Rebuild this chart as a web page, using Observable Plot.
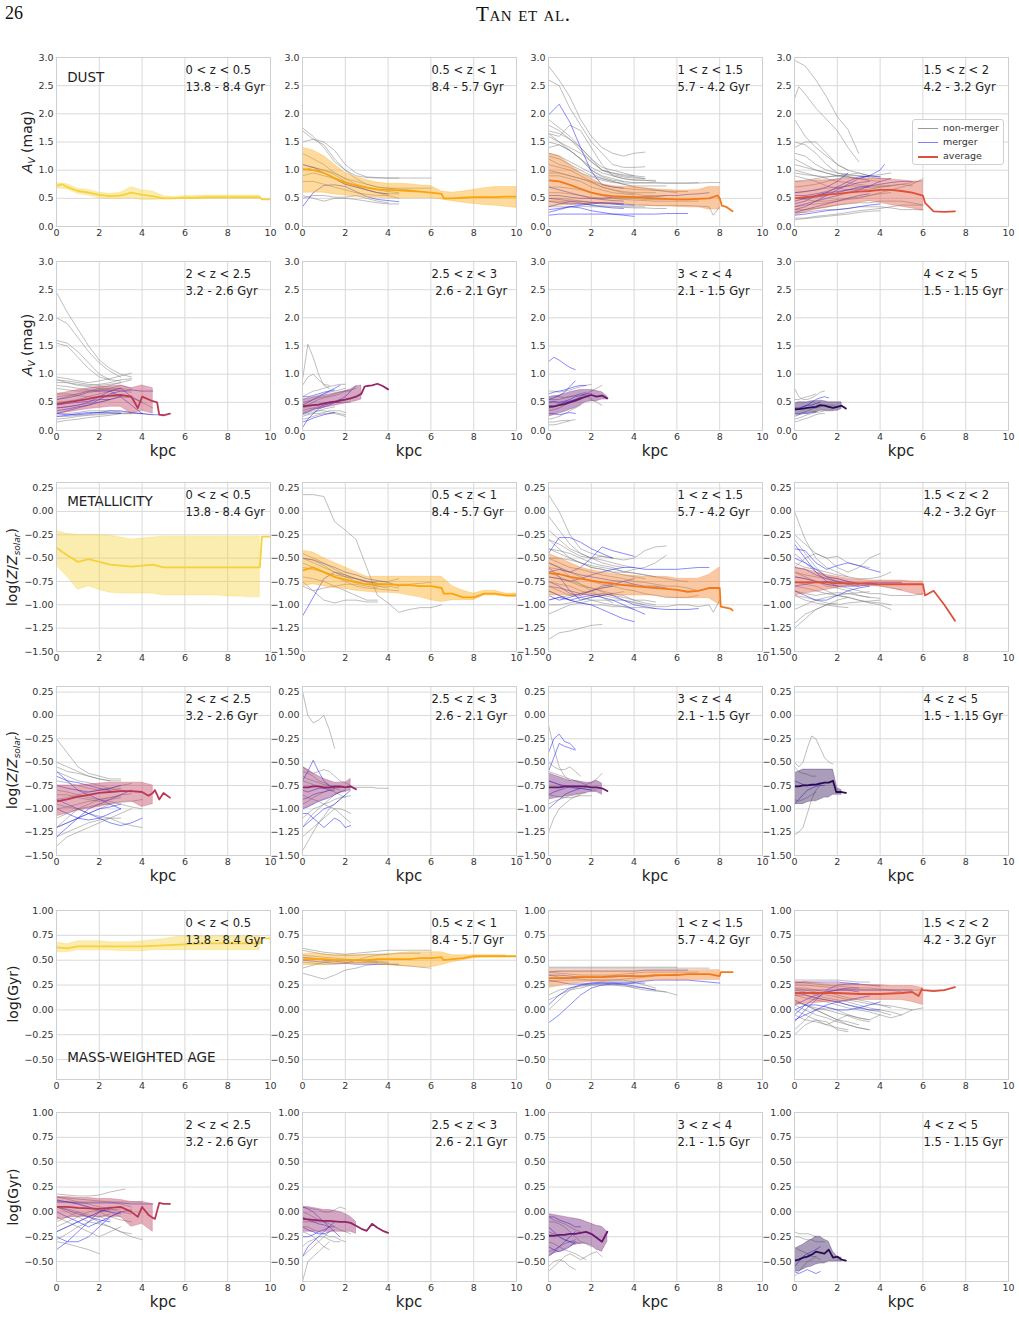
<!DOCTYPE html>
<html><head><meta charset="utf-8">
<script src="https://cdn.jsdelivr.net/npm/d3@7"></script>
<script src="https://cdn.jsdelivr.net/npm/@observablehq/plot@0.6"></script>
<style>
body{margin:0;background:#fff;}
#page{position:relative;width:1019px;height:1334px;overflow:hidden;font-family:"DejaVu Sans",sans-serif;color:#222;background:#fff;}
.panel{position:absolute;}
.abs{position:absolute;white-space:nowrap;}
.ylab{position:absolute;white-space:nowrap;font-size:14px;color:#222;transform:translate(-50%,-50%) rotate(-90deg);}
.kpc{position:absolute;font-size:15px;color:#222;transform:translate(-50%,-50%);}
.legend{position:absolute;background:rgba(255,255,255,0.9);border:1px solid #cfcfcf;border-radius:3px;font-size:9.5px;color:#333;}
.legend .row{position:absolute;left:0;height:14px;width:100%;}
.legend .sw{position:absolute;left:5px;width:20px;top:7px;}
.legend .tx{position:absolute;left:30px;top:0;line-height:14px;}
</style></head>
<body><div id="page"></div>
<script>
// ---------------- DATA ----------------
const zBins = ["0 < z < 0.5","0.5 < z < 1","1 < z < 1.5","1.5 < z < 2","2 < z < 2.5","2.5 < z < 3","3 < z < 4","4 < z < 5"];
const ageRanges = ["13.8 - 8.4 Gyr","8.4 - 5.7 Gyr","5.7 - 4.2 Gyr","4.2 - 3.2 Gyr","3.2 - 2.6 Gyr","\u00a02.6 - 2.1 Gyr","2.1 - 1.5 Gyr","1.5 - 1.15 Gyr"];
const sectionTitles = ["DUST","METALLICITY","MASS-WEIGHTED AGE"];
const legendLabels = ["non-merger","merger","average"];
const xTicks = [0,2,4,6,8,10];
const dustTicks = [0,0.5,1,1.5,2,2.5,3];
const metalTicks = [0.25,0,-0.25,-0.5,-0.75,-1,-1.25,-1.5];
const ageTicks = [1,0.75,0.5,0.25,0,-0.25,-0.5];
// radial sampling step (kpc) of each redshift bin's profiles; "x:y" tokens are explicit points
const stepKpc = [0.5,0.5,0.5,0.5,0.5,0.25,0.25,0.2];

const dustMean = [
"0.72 0.25:0.75 0.70 0.63 0.60 0.56 0.54 0.55 0.60 0.56 0.54 0.50 0.50 0.51 0.51 0.52 0.52 0.52 0.52 0.52 0.52 9.6:0.48 0.48",
"1.02 1.0 0.95 0.86 0.78 0.73 0.69 0.66 0.65 0.64 0.63 0.62 0.6 0.58 6.6:0.5 0.5 0.51 0.52 0.52 0.52 0.53 0.53",
"0.82 0.8 0.74 0.67 0.6 0.56 0.54 0.53 0.52 0.51 0.5 0.49 0.48 0.48 0.49 0.5 7.9:0.55 8.0:0.5 8.1:0.37 8.3:0.35 8.6:0.27",
"0.5 0.52 0.54 0.57 0.58 0.6 0.62 0.63 0.65 0.65 0.63 0.6 0.55 6.1:0.42 0.27 0.26 0.27",
"0.47 0.5 0.53 0.56 0.6 0.62 0.63 0.6 3.8:0.4 0.6 0.52 4.7:0.5 4.8:0.28 0.27 5.3:0.3",
"0.43 0.44 0.45 0.46 0.48 0.5 0.51 0.53 0.55 0.57 0.6 0.65 2.9:0.78 0.79 0.8 0.83 0.79 0.73",
"0.43 0.43 0.45 0.47 0.5 0.53 0.57 0.6 0.63 0.6 0.62 0.57",
"0.38 0.38 0.39 0.4 0.41 0.42 0.45 0.44 0.42 0.4 0.42 0.44 0.39"];
const dustLo = [
"0.68 0.66 0.58 0.55 0.50 0.49 0.49 0.50 0.47 0.47 0.48 0.49 0.49 0.49 0.49 0.49 0.49 0.49 0.49 0.49",
"0.6 0.6 0.6 0.57 0.55 0.53 0.52 0.51 0.5 0.5 0.5 0.5 0.5 0.48 0.45 0.42 0.4 0.38 0.37 0.35 0.33",
"0.35 0.37 0.38 0.4 0.4 0.4 0.4 0.4 0.38 0.37 0.36 0.36 0.35 0.34 0.34 0.3 0.3",
"0.2 0.25 0.3 0.33 0.37 0.4 0.42 0.45 0.42 0.38 0.35 0.32 0.28",
"0.3 0.32 0.35 0.38 0.4 0.42 0.42 0.3 0.35 0.3",
"0.3 0.33 0.36 0.38 0.4 0.42 0.44 0.46 0.48 0.5 0.52 0.55",
"0.25 0.27 0.3 0.33 0.37 0.4 0.45 0.5 0.52 0.52 0.55 0.55",
"0.28 0.28 0.3 0.3 0.32 0.32 0.35 0.35 0.35 0.35 0.35 0.38"];
const dustHi = [
"0.77 0.75 0.67 0.65 0.60 0.58 0.60 0.70 0.64 0.62 0.54 0.52 0.54 0.54 0.55 0.55 0.55 0.55 0.55 0.55",
"1.4 1.35 1.25 1.1 0.95 0.88 0.82 0.78 0.76 0.76 0.75 0.73 0.72 0.62 0.6 0.62 0.65 0.68 0.7 0.7 0.7",
"1.3 1.25 1.1 0.95 0.85 0.75 0.72 0.7 0.7 0.68 0.66 0.65 0.64 0.64 0.65 0.7 0.7",
"0.8 0.8 0.82 0.82 0.83 0.85 0.85 0.85 0.85 0.83 0.82 0.8 0.8",
"0.65 0.68 0.72 0.75 0.78 0.78 0.8 0.75 0.8 0.75",
"0.55 0.56 0.58 0.6 0.62 0.64 0.66 0.68 0.7 0.73 0.78 0.8",
"0.58 0.6 0.62 0.65 0.68 0.7 0.72 0.72 0.72 0.7 0.68 0.6",
"0.48 0.5 0.5 0.5 0.52 0.52 0.53 0.52 0.5 0.5 0.5 0.5"];
const dustNonMerger = [
[],
["1.75 1.6 1.4 1.15 1.0 0.9 0.87 0.86 0.86 0.86 0.86 0.86 0.86",
 "1.7 1.55 1.5 1.35 1.1 0.95 0.88 0.87 0.86 0.86",
 "1.5 1.55 1.45 1.2 1.0 0.85 0.75 0.7 0.68 0.68 0.68 0.68 0.68",
 "1.3 1.2 1.1 0.95 0.85 0.75 0.7 0.65 0.62 0.6",
 "1.1 1.05 1.0 0.92 0.8 0.72 0.65 0.6 0.58 0.58",
 "0.9 0.95 0.9 0.85 0.75 0.7 0.65 0.6 0.55 0.5",
 "0.8 0.8 0.75 0.7 0.65 0.6 0.57 0.55 0.55",
 "0.55 0.5 0.45 0.5 0.5 0.48 0.45 0.42 0.4 0.4",
 "0.5 0.55 0.55 0.52 0.52 0.55 0.5 0.45 0.42",
 "1.0 1.05 1.0 0.95 0.85 0.8 0.75 0.7 0.68 0.66 0.65 0.62"],
["2.85 2.6 2.3 1.9 1.6 1.4 1.3 1.25 1.3 1.32",
 "2.6 2.5 2.1 1.8 1.5 1.3 1.1 1.05 1.05 1.06",
 "1.7 1.65 1.55 1.4 1.2 1.0 0.95 0.92 0.9 0.88",
 "1.65 1.6 1.8 1.7 1.4 1.1 0.9 0.85 0.82 0.82 0.82",
 "1.5 1.45 1.35 1.2 1.0 0.88 0.82 0.8 0.78 0.78 0.78 0.77 0.77 0.77 0.77 0.78 0.78",
 "1.3 1.25 1.15 1.05 0.95 0.85 0.8 0.75 0.72 0.72 0.72 0.72",
 "1.1 1.05 1.0 0.9 0.8 0.7 0.65 0.6 0.58 0.55 0.55 0.55",
 "0.9 0.9 0.85 0.8 0.7 0.65 0.6 0.58 0.56",
 "0.7 0.7 0.68 0.65 0.6 0.55 0.5 0.48 0.47 0.46 0.45 0.45 0.45 0.45 0.45",
 "0.5 0.5 0.48 0.45 0.42 0.4 0.4 0.4 0.38 0.38 0.37 0.37 0.37 0.37 0.36 0.35 7.7:0.2 0.35",
 "1.9 1.75 1.6 1.4 1.2 1.05 1.0 0.95 0.9",
 "1.4 1.45 1.35 1.2 1.0 0.9 0.85 0.8",
 "0.35 0.35 0.35 0.36 0.35 0.35 0.35 0.34 0.33 0.33 0.32 0.32",
 "1.2 1.1 1.05 0.95 0.88 0.82 0.78 0.77 0.77 0.77 0.77 0.77 0.77 0.77 0.78",
 "1.6 1.5 1.4 1.3 1.15 1.0 0.92 0.88 0.86 0.85",
 "0.95 0.95 0.9 0.85 0.78 0.7 0.65 0.62 0.6 0.6 0.6",
 "1.8 1.7 1.55 1.35 1.15 1.0 0.95 0.9 0.88 0.85",
 "1.65 1.5 1.35 1.2 1.05 0.95 0.9 0.85 0.83 0.82 0.8",
 "1.25 1.2 1.1 1.0 0.9 0.85 0.8 0.75 0.7 0.68 0.65 0.62 0.6",
 "1.0 0.95 0.9 0.85 0.8 0.75 0.7 0.68 0.66 0.65 0.64 0.63 0.62 0.62",
 "0.6 0.6 0.58 0.55 0.52 0.5 0.5 0.5 0.5 0.48 0.48 0.48",
 "0.45 0.45 0.42 0.4 0.38 0.37 0.36 0.35 0.35 0.35"],
["2.95 2.85 2.6 2.3 1.95 1.72 1.3",
 "2.27 0.2:2.48 2.35 2.1 1.9 1.7 1.4 1.15",
 "1.9 1.6 1.4 1.25 1.1 1.0",
 "1.5 1.45 1.3 1.1 0.95 0.9 0.9 0.88 0.85 0.85",
 "1.1 1.05 1.0 0.95 0.9 0.88 0.85 0.82 0.8",
 "1.0 0.95 0.9 0.85 0.8 0.78 0.75 0.72 0.72 0.73 0.75 0.78 0.82",
 "0.9 0.85 0.8 0.72 0.68 0.65 0.65 0.66 0.7 0.72",
 "0.15 0.15 0.18 0.2 0.22 0.25 0.28 0.3 0.32 0.35 0.38 0.38 0.38",
 "0.12 0.14 0.16 0.18 0.2 0.22 0.25 0.27 0.28",
 "0.3 0.3 0.32 0.35 0.38 0.4 0.42 0.42 0.45 0.45 0.45 0.42 0.38",
 "0.6 0.62 0.65 0.68 0.7 0.72 0.72 0.7 0.7 0.72 0.75 0.72",
 "0.25 0.25 0.28 0.3 0.3 0.32 0.35 0.35 0.35 0.33 0.3 0.3 0.3",
 "1.3 1.25 1.1 1.0 0.95 0.93",
 "1.4 1.5 1.5 1.3 1.1 1.0 0.95 0.9",
 "0.95 0.92 0.9 0.88 0.9 0.92 0.9 0.88",
 "0.8 0.82 0.85 0.88 0.9 0.92 0.95 0.9 0.88",
 "0.7 0.72 0.75 0.8 0.85 0.88 0.85 0.82",
 "0.5 0.48 0.45 0.45 0.48 0.5 0.52 0.55 0.6 0.65 0.7 0.75 0.85",
 "0.35 0.38 0.4 0.42 0.45 0.48 0.5 0.55 0.58 0.6",
 "1.2 1.1 1.0 0.95 0.9 0.88 0.85 0.9 0.92 0.95"],
["2.45 2.1 1.8 1.5 1.25 1.1 1.0 0.95",
 "2.0 1.9 1.65 1.4 1.2 1.05 0.95",
 "1.6 1.55 1.4 1.2 1.0 0.9 0.88",
 "1.55 1.5 1.3 1.1 0.95 0.9",
 "0.95 0.92 0.88 0.85 0.88 0.92 0.97 1.02",
 "0.85 0.85 0.82 0.8 0.82 0.85 0.9 0.92",
 "0.75 0.72 0.7 0.7 0.72 0.75 0.8 0.75",
 "0.2 0.22 0.25 0.27 0.28 0.3 0.3 0.3 0.3",
 "0.15 0.18 0.2 0.23 0.25 0.27 0.3 0.3",
 "0.3 0.3 0.32 0.35 0.35 0.35 0.33 0.32 0.3 0.28",
 "0.55 0.6 0.65 0.7 0.72 0.75 0.75 0.72",
 "0.4 0.42 0.45 0.48 0.5 0.55 0.6 0.58 0.5 0.4",
 "0.9 0.88 0.85 0.82 0.8 0.82 0.85",
 "0.65 0.65 0.62 0.6 0.58 0.6 0.62",
 "0.6 0.62 0.65 0.7 0.75 0.8 0.85 0.9",
 "0.5 0.52 0.55 0.6 0.65 0.7 0.72",
 "0.9 0.85 0.8 0.78 0.75 0.72 0.7 0.68",
 "0.25 0.25 0.27 0.28 0.3 0.3 0.32",
 "0.8 0.78 0.75 0.72 0.7 0.72 0.75"],
["0.9 1.53 1.3 1.0 0.8 0.75",
 "0.8 0.95 1.0 0.9 0.82 0.8",
 "0.6 0.65 0.7 0.72 0.75 0.78 0.8 0.82 0.82",
 "0.3 0.32 0.35 0.35 0.35 0.33 0.3 0.28 0.25",
 "0.2 0.22 0.25 0.28 0.3 0.3 0.32 0.3 0.28",
 "0.5 0.52 0.55 0.58 0.6 0.62 0.65 0.68 0.7 0.7",
 "0.35 0.38 0.4 0.42 0.45 0.48 0.5 0.5 0.5 0.5",
 "0.45 0.45 0.5 0.55 0.58 0.6 0.62 0.65 0.7 0.72 0.75",
 "0.25 0.28 0.3 0.3 0.32 0.35 0.35 0.35 0.32",
 "0.4 0.42 0.45 0.45 0.48 0.5 0.52 0.55 0.55 0.58",
 "0.55 0.58 0.6 0.62 0.65 0.68 0.7 0.72 0.75",
 "0.28 0.3 0.32 0.35 0.38 0.4 0.42"],
["0.7 0.7 0.68 0.7 0.72 0.75 0.78 0.8 0.82",
 "0.15 0.15 0.17 0.18 0.18 0.19",
 "0.1 0.1 0.12 0.15 0.17",
 "0.2 0.22 0.25 0.3 0.35 0.4 0.45",
 "0.55 0.55 0.55 0.58 0.6 0.62 0.65 0.62 0.55 0.5 0.45",
 "0.35 0.37 0.4 0.45 0.5 0.55 0.6 0.65 0.7 0.75 0.8",
 "0.5 0.5 0.48 0.5 0.52 0.55 0.55",
 "0.4 0.42 0.45 0.48 0.5 0.52 0.55 0.6",
 "0.6 0.62 0.6 0.58 0.6 0.62 0.65 0.68"],
["0.75 0.6 0.55 0.55 0.58 0.62 0.68 0.7",
 "0.55 0.55 0.58 0.6 0.62 0.65",
 "0.2 0.22 0.25 0.28 0.3 0.32 0.33 0.35 0.35 0.35",
 "0.15 0.17 0.2 0.22 0.25 0.28 0.3 0.3",
 "0.3 0.3 0.32 0.35 0.38 0.4 0.42 0.45 0.45 0.45 0.42"]];
const dustMerger = [
[],
["0.35 0.6 0.73 0.74 0.71 0.62 0.53 0.48 0.46 0.44",
 "1.1 1.05 0.95 0.85 0.75 0.7 0.65 0.6 0.58"],
["1.98 2.17 1.85 1.4 0.98 0.74 0.7 0.68",
 "0.25 0.3 0.35 0.33 0.28 0.25 0.22 0.2 0.18",
 "0.2 0.22 0.22 0.22 0.22 0.22 0.22 0.22 0.22 0.22 0.22 0.23 0.23 0.23",
 "0.55 0.55 0.52 0.5 0.5 0.5 0.52 0.52 0.52 0.53 0.53 0.55 0.55 0.57 0.58 0.6",
 "0.45 0.42 0.4 0.4 0.42 0.42 0.4 0.38 0.38",
 "0.35 0.4 0.45 0.45 0.43 0.42 0.41 0.4",
 "0.5 0.48 0.45 0.42 0.38 0.35 0.33 0.32",
 "0.7 0.65 0.6 0.55 0.5 0.48 0.46 0.45",
 "0.3 0.32 0.35 0.38 0.4 0.42 0.42 0.4"],
["0.4 0.45 0.55 0.6 0.7 0.8 0.88 0.9 1.0 4.2:1.1",
 "0.3 0.35 0.45 0.55 0.65 0.75 0.85 0.9 0.88",
 "0.5 0.5 0.52 0.55 0.6 0.65 0.7 0.72 0.75 0.78 0.8 0.8",
 "0.2 0.22 0.25 0.28 0.3 0.32 0.35 0.38 0.4",
 "0.6 0.62 0.65 0.7 0.8 0.95",
 "0.45 0.5 0.55 0.6 0.62 0.65 0.68 0.7",
 "0.35 0.4 0.45 0.5 0.55 0.6 0.65 0.72 0.8 0.85",
 "0.55 0.55 0.58 0.62 0.68 0.72 0.78 0.8",
 "0.25 0.3 0.35 0.4 0.45 0.5 0.55 0.58"],
["0.3 0.35 0.4 0.45 0.55 0.65 0.7 0.72 0.7 0.7",
 "0.55 0.58 0.62 0.68 0.7 0.7 0.6 0.45 0.3 0.28 0.28",
 "0.25 0.27 0.3 0.32 0.32 0.32 0.3",
 "0.45 0.48 0.5 0.52 0.55 0.55",
 "0.35 0.38 0.42 0.45 0.5 0.55 0.6",
 "0.4 0.42 0.45 0.5 0.6 0.7 0.75 0.6 0.5",
 "0.3 0.28 0.28 0.3 0.32 0.35 0.35 0.32 0.3"],
["0.05 0.2 0.3 0.38 0.42 0.45 0.5 0.55 0.6 0.7 0.8",
 "0.15 0.18 0.22 0.25 0.28 0.3 0.32",
 "0.45 0.5 0.55 0.6 0.65 0.7 0.75 0.8",
 "0.3 0.33 0.38 0.4 0.45 0.48 0.5 0.5",
 "0.6 0.6 0.62 0.65 0.68 0.7 0.72"],
["1.22 1.3 1.25 1.18 1.12 1.08",
 "0.55 0.58 0.62 0.68 0.78 0.88",
 "0.65 0.68 0.7 0.72 0.75 0.78 0.8 0.8",
 "0.3 0.3 0.28 0.3 0.32 0.3",
 "0.4 0.42 0.45 0.5 0.52 0.55 0.58",
 "0.5 0.52 0.5 0.52 0.55 0.6 0.62 0.65 0.65"],
["0.35 0.38 0.42 0.45 0.5 0.55 0.58 0.6 0.58",
 "0.25 0.28 0.3 0.3 0.32 0.33",
 "0.4 0.4 0.42 0.45 0.45 0.48 0.5"]];

const metalMean = [
"-0.39 -0.47 -0.54 -0.51 -0.54 -0.57 -0.58 -0.59 -0.58 -0.57 -0.6 -0.6 -0.6 -0.6 -0.6 -0.6 -0.6 -0.6 -0.6 -0.6 9.6:-0.27 -0.27",
"-0.63 -0.6 -0.65 -0.7 -0.73 -0.76 -0.78 -0.78 -0.78 -0.79 -0.79 -0.8 -0.8 -0.82 6.6:-0.88 -0.88 -0.92 -0.92 -0.88 -0.88 -0.9 -0.9",
"-0.66 -0.67 -0.7 -0.72 -0.74 -0.76 -0.77 -0.79 -0.8 -0.81 -0.82 -0.83 -0.84 -0.86 -0.85 -0.82 -0.82 8.05:-1.02 -1.04 8.6:-1.06",
"-0.76 -0.76 -0.76 -0.76 -0.77 -0.77 -0.77 -0.77 -0.78 -0.78 -0.78 -0.78 -0.78 6.1:-0.9 -0.85 -1.0 -1.17",
"-0.92 -0.9 -0.87 -0.85 -0.83 -0.82 -0.81 -0.81 -0.82 4.3:-0.86 -0.83 4.6:-0.8 4.8:-0.9 -0.83 5.3:-0.88",
"-0.77 -0.77 -0.76 -0.76 -0.77 -0.77 -0.76 -0.76 -0.77 -0.76 -0.79",
"-0.77 -0.77 -0.77 -0.76 -0.76 -0.76 -0.76 -0.76 -0.77 -0.77 -0.78 -0.81",
"-0.76 -0.76 -0.75 -0.75 -0.74 -0.74 -0.73 -0.72 -0.72 -0.7 1.95:-0.82 -0.82 -0.82 -0.83"];
const metalLo = [
"-0.58 -0.7 -0.84 -0.8 -0.84 -0.87 -0.88 -0.88 -0.88 -0.88 -0.9 -0.9 -0.9 -0.9 -0.9 -0.9 -0.91 -0.91 -0.92 -0.92",
"-0.8 -0.78 -0.8 -0.82 -0.83 -0.85 -0.86 -0.87 -0.87 -0.88 -0.9 -0.92 -0.95 -0.97 -0.95 -0.95 -0.95 -0.9 -0.9 -0.91 -0.91",
"-0.9 -0.9 -0.9 -0.9 -0.9 -0.9 -0.9 -0.9 -0.9 -0.9 -0.9 -0.92 -0.93 -0.93 -0.93 -0.93 -1.0",
"-0.9 -0.88 -0.86 -0.84 -0.82 -0.8 -0.8 -0.8 -0.8 -0.82 -0.85 -0.88 -0.9",
"-1.08 -1.05 -1.02 -1.0 -0.98 -0.95 -0.93 -0.92 -0.98 -0.95",
"-1.0 -0.98 -0.95 -0.92 -0.9 -0.88 -0.85 -0.83 -0.82 -0.8",
"-0.9 -0.89 -0.88 -0.87 -0.86 -0.85 -0.84 -0.83 -0.82 -0.82 -0.85",
"-0.95 -0.95 -0.95 -0.93 -0.92 -0.92 -0.9 -0.88 -0.88 -0.85 -0.85 -0.85"];
const metalHi = [
"-0.21 -0.24 -0.25 -0.25 -0.25 -0.26 -0.28 -0.3 -0.29 -0.28 -0.27 -0.27 -0.27 -0.27 -0.27 -0.27 -0.27 -0.27 -0.27 -0.27",
"-0.42 -0.44 -0.5 -0.55 -0.6 -0.65 -0.7 -0.7 -0.7 -0.7 -0.7 -0.7 -0.7 -0.7 -0.8 -0.85 -0.88 -0.85 -0.85 -0.88 -0.88",
"-0.45 -0.5 -0.55 -0.6 -0.63 -0.65 -0.67 -0.68 -0.69 -0.7 -0.7 -0.7 -0.72 -0.72 -0.72 -0.68 -0.6",
"-0.6 -0.62 -0.65 -0.68 -0.7 -0.72 -0.73 -0.74 -0.74 -0.74 -0.74 -0.75 -0.75",
"-0.75 -0.75 -0.75 -0.74 -0.73 -0.72 -0.72 -0.72 -0.72 -0.75",
"-0.55 -0.58 -0.62 -0.65 -0.68 -0.7 -0.72 -0.72 -0.72 -0.68",
"-0.62 -0.64 -0.66 -0.68 -0.7 -0.7 -0.71 -0.72 -0.72 -0.7 -0.73",
"-0.62 -0.6 -0.58 -0.58 -0.58 -0.58 -0.58 -0.58 -0.58 -0.58 -0.78 -0.8"];
const metalNonMerger = [
[],
["0.18 0.18 0.16 -0.11 -0.2 -0.3 -0.6 -0.9 -0.98 -1.08 -1.05 -1.03 -1.03 -1.0",
 "-0.5 -0.55 -0.6 -0.65 -0.7 -0.72 -0.75 -0.75 -0.75 -0.72",
 "-0.55 -0.6 -0.65 -0.7 -0.75 -0.8 -0.82 -0.83 -0.84 -0.85",
 "-0.6 -0.62 -0.65 -0.68 -0.7 -0.75 -0.78 -0.8 -0.8 -0.82",
 "-0.75 -0.85 -0.95 -0.98 -0.95 -0.95 -0.97 -0.97",
 "-0.7 -0.72 -0.75 -0.8 -0.85 -0.9 -0.95 -0.95",
 "-0.5 -0.52 -0.58 -0.65 -0.7 -0.72 -0.75 -0.77 -0.78 -0.78 -0.78 -0.77 -0.76",
 "-0.8 -0.85 -0.82 -0.8 -0.78 -0.78 -0.8 -0.82",
 "-0.45 -0.5 -0.55 -0.62 -0.68 -0.72 -0.76 -0.8 -0.82"],
["0.18 0.0 -0.25 -0.4 -0.45 -0.48 -0.5",
 "-0.05 -0.2 -0.35 -0.45 -0.5 -0.52 -0.55 -0.58 -0.6",
 "-0.3 -0.35 -0.42 -0.48 -0.5 -0.48 -0.5 -0.52 -0.5 -0.42 -0.38 -0.37",
 "-0.4 -0.45 -0.5 -0.55 -0.6 -0.62 -0.65 -0.65 -0.62 -0.6 -0.55 -0.47",
 "-0.5 -0.55 -0.6 -0.62 -0.65 -0.68 -0.7 -0.72 -0.75 -0.76 -0.78 -0.8 -0.8 -0.82 -0.85",
 "-0.85 -0.9 -0.95 -0.98 -1.0 -1.0 -1.02 -1.02 -1.03 -1.03 -1.04",
 "-1.1 -1.05 -1.0 -0.98 -0.95 -0.95 -0.95 -0.95 -0.97 -1.0 -1.02 -1.02 -1.0 -1.0 -1.02 -1.0 7.7:-1.08 -0.95",
 "-1.37 -1.3 -1.28 -1.25 -1.22 -1.21",
 "-0.6 -0.62 -0.65 -0.7 -0.75 -0.78 -0.8 -0.83 -0.85 -0.88 -0.9 -0.92 -0.92 -0.92 -0.9",
 "-0.75 -0.78 -0.8 -0.85 -0.88 -0.9 -0.92 -0.95 -0.98 -1.0",
 "-0.4 -0.42 -0.45 -0.5 -0.55 -0.58 -0.6 -0.65 -0.66 -0.68 -0.7 -0.72 -0.74 -0.75",
 "-0.95 -0.92 -0.9 -0.88 -0.85 -0.82 -0.8 -0.78 -0.78",
 "-0.2 -0.3 -0.4 -0.45 -0.5 -0.55 -0.58 -0.6",
 "-0.7 -0.72 -0.74 -0.78 -0.82 -0.86 -0.9 -0.92 -0.95 -0.95 -0.97",
 "-0.3 -0.4 -0.5 -0.55 -0.6 -0.62 -0.65 -0.68 -0.7 -0.72",
 "-0.65 -0.7 -0.75 -0.8 -0.82 -0.85 -0.88 -0.9 -0.95 -0.98 -1.0",
 "-0.8 -0.85 -0.9 -0.92 -0.95 -0.98 -1.0 -1.02 -1.05",
 "-0.5 -0.5 -0.52 -0.55 -0.58 -0.6 -0.62 -0.64 -0.66 -0.68 -0.7",
 "-1.0 -1.0 -0.98 -0.95 -0.92 -0.9 -0.88 -0.86",
 "-0.55 -0.6 -0.7 -0.78 -0.85 -0.92 -0.98"],
["0.0 -0.3 -0.5 -0.6 -0.65 -0.7",
 "-0.25 -0.35 -0.45 -0.5 -0.48 -0.55 -0.58 -0.6",
 "-0.6 -0.5 -0.45 -0.5 -0.6 -0.65 -0.6 -0.5 -0.45",
 "-1.25 -1.15 -1.05 -1.0 -0.95 -0.92",
 "-1.2 -1.1 -1.05 -1.0 -0.98",
 "-0.9 -0.92 -0.95 -0.98 -1.0 -0.98 -0.97 -0.96 -0.95",
 "-0.8 -0.82 -0.85 -0.88 -0.9 -0.92 -0.95 -0.98 -1.0 -1.05",
 "-0.7 -0.72 -0.75 -0.78 -0.8 -0.82 -0.85 -0.88 -0.88 -0.9 -0.9 -0.9 -0.88",
 "-0.55 -0.6 -0.62 -0.65 -0.68 -0.7 -0.72 -0.72 -0.7 -0.65",
 "-0.85 -0.88 -0.9 -0.88 -0.87 -0.88 -0.9 -0.92 -0.93",
 "-0.65 -0.68 -0.7 -0.72 -0.75 -0.76 -0.77 -0.78 -0.8 -0.82 -0.84",
 "-0.45 -0.55 -0.65 -0.7 -0.72 -0.75 -0.78 -0.8",
 "-0.3 -0.45 -0.6 -0.7 -0.75 -0.78 -0.8",
 "-1.05 -1.0 -0.95 -0.92 -0.9 -0.88 -0.87 -0.86",
 "-0.75 -0.78 -0.8 -0.85 -0.9 -0.92 -0.95 -0.97 -0.98 -1.0",
 "-0.9 -0.95 -0.98 -1.0 -1.02 -1.03",
 "-0.65 -0.7 -0.75 -0.8 -0.82 -0.85 -0.9 -0.92"],
["-0.25 -0.4 -0.55 -0.62 -0.65 -0.68 -0.68",
 "-0.5 -0.55 -0.6 -0.65 -0.68 -0.7 -0.7",
 "-0.6 -0.65 -0.7 -0.72 -0.75 -0.78 -0.8 -0.82",
 "-1.4 -1.3 -1.25 -1.2 -1.15 -1.1 -1.05 -1.0",
 "-1.3 -1.25 -1.2 -1.15 -1.12 -1.1 -1.1",
 "-1.1 -1.05 -1.0 -0.98 -0.95 -0.95 -0.93 -0.92 -0.9",
 "-0.8 -0.82 -0.85 -0.88 -0.9 -0.92 -0.95 -0.98 -1.0",
 "-0.7 -0.72 -0.75 -0.78 -0.8 -0.78 -0.75 -0.73",
 "-0.95 -0.98 -1.0 -1.05 -1.08 -1.1 -1.15 -1.18 -1.2",
 "-0.85 -0.85 -0.88 -0.9 -0.92 -0.9 -0.88",
 "-1.2 -1.1 -1.0 -0.95 -0.9 -0.88 -0.85 -0.84",
 "-0.55 -0.6 -0.62 -0.65 -0.68 -0.7",
 "-1.0 -0.98 -0.95 -0.92 -0.9 -0.88 -0.86",
 "-1.2 -1.15 -1.1 -1.05 -1.0 -0.95",
 "-0.9 -0.88 -0.85 -0.82 -0.8 -0.8 -0.78"],
["0.26 0.0 -0.08 -0.05 0.0 -0.15 -0.35",
 "-0.55 -0.6 -0.62 -0.6 -0.58 -0.6 -0.65 -0.7 -0.72 -0.75",
 "-1.45 -1.35 -1.25 -1.15 -1.08 -1.0 -0.95 -0.9 -0.85",
 "-1.3 -1.25 -1.2 -1.15 -1.1 -1.05 -1.0 -1.0 -1.02 -1.05",
 "-1.1 -1.05 -1.0 -0.98 -0.95 -0.93 -0.9 -0.88 -0.87 -0.86",
 "-0.65 -0.68 -0.7 -0.72 -0.74 -0.75 -0.76 -0.77 -0.77 -0.77 -0.77 -0.77 -0.77 -0.77 -0.78 -0.78 -0.78",
 "-0.85 -0.88 -0.9 -0.92 -0.95 -0.98 -1.0 -1.05 -1.1 -1.15",
 "-0.6 -0.62 -0.65 -0.7 -0.72 -0.75 -0.78 -0.8",
 "-0.95 -0.92 -0.88 -0.85 -0.82 -0.8 -0.78 -0.77",
 "-1.2 -1.12 -1.05 -1.0 -0.95 -0.9 -0.85 -0.82",
 "-0.7 -0.72 -0.74 -0.76 -0.78 -0.8 -0.82 -0.85 -0.88"],
["-0.1 -0.35 -0.55 -0.65 -0.7",
 "-0.5 -0.55 -0.58 -0.58 -0.55 -0.6 -0.65",
 "-0.6 -0.62 -0.64 -0.66 -0.68 -0.7 -0.72 -0.74 -0.72 -0.68 -0.62",
 "-1.25 -1.1 -1.0 -0.95 -0.9 -0.87 -0.85",
 "-0.95 -0.92 -0.9 -0.88 -0.86 -0.85 -0.84 -0.83",
 "-0.85 -0.86 -0.87 -0.88 -0.88 -0.87 -0.86 -0.86 -0.86",
 "-0.7 -0.72 -0.74 -0.75 -0.76 -0.77 -0.78 -0.79 -0.8 -0.8"],
["-0.5 -0.55 -0.5 -0.35 -0.22 -0.25 -0.35 -0.45 -0.5 -0.52",
 "-1.28 -1.25 -1.2 -1.05 -0.9 -0.8 -0.75",
 "-0.55 -0.6 -0.62 -0.63 -0.65 -0.65",
 "-0.9 -0.92 -0.9 -0.88 -0.85 -0.82"]];
const metalMerger = [
[],
["-1.12 -0.92 -0.72 -0.65 -0.68 -0.72 -0.75 -0.77",
 "-0.5 -0.52 -0.56 -0.6 -0.65 -0.68 -0.72 -0.74 -0.76 -0.8"],
["-0.45 -0.28 -0.28 -0.33 -0.4 -0.45 -0.5",
 "-0.55 -0.6 -0.65 -0.6 -0.5 -0.38 -0.42 -0.45 -0.48",
 "-0.7 -0.72 -0.75 -0.72 -0.68 -0.65 -0.62 -0.6 -0.6 -0.62 -0.62 -0.62 -0.62 -0.61 -0.6 -0.6",
 "-0.95 -0.92 -0.95 -0.92 -0.9 -0.88 -0.9 -0.95 -1.0 -1.02 -1.04 -1.05 -1.05 -1.05 -1.04",
 "-0.85 -0.9 -0.95 -0.98 -1.0 -1.05 -1.1 -1.15 -1.18",
 "-0.8 -0.82 -0.85 -0.88 -0.9 -0.92 -0.95 -1.0 -1.05 -1.1",
 "-0.65 -0.62 -0.65 -0.68 -0.7 -0.72 -0.74 -0.75 -0.78 -0.8 -0.8 -0.82",
 "-0.9 -0.95 -0.92 -0.88 -0.85 -0.82 -0.8",
 "-0.75 -0.8 -0.88 -0.9 -0.85 -0.8 -0.78 -0.75 -0.72",
 "-0.6 -0.7 -0.85 -0.95 -0.92 -0.9 -0.88"],
["-0.35 -0.5 -0.65 -0.75 -0.8",
 "-0.4 -0.42 -0.55 -0.62 -0.58 -0.55 -0.58 -0.62 -0.65",
 "-0.7 -0.72 -0.75 -0.78 -0.8 -0.8 -0.8 -0.78 -0.78 -0.78 -0.78",
 "-0.85 -0.9 -0.95 -0.95 -0.9 -0.85 -0.82 -0.8",
 "-0.6 -0.62 -0.68 -0.72 -0.75 -0.77 -0.78",
 "-0.5 -0.55 -0.62 -0.7 -0.72 -0.75 -0.77",
 "-0.8 -0.78 -0.76 -0.75 -0.76 -0.78 -0.77 -0.76 -0.76 -0.76 -0.76"],
["-0.6 -0.7 -0.8 -0.85 -0.9 -0.95 -1.0",
 "-1.3 -1.2 -1.1 -1.0 -0.95 -0.9 -0.85 -0.8",
 "-1.2 -1.15 -1.1 -1.05 -1.0 -0.98 -0.95",
 "-0.9 -0.95 -1.0 -1.05 -1.1 -1.15 -1.18 -1.15 -1.1",
 "-0.75 -0.78 -0.8 -0.82 -0.8 -0.78 -0.75",
 "-1.0 -1.05 -1.1 -1.12 -1.1 -1.05 -1.0",
 "-0.65 -0.7 -0.72 -0.75 -0.78 -0.8"],
["-0.7 -0.6 -0.48 -0.6 -0.7 -0.75 -0.78",
 "-1.2 -1.15 -1.1 -1.05 -1.0 -0.98 -0.95 -0.9 -0.85 -0.8",
 "-1.0 -0.98 -0.95 -0.92 -0.9 -0.88 -0.85 -0.82 -0.8",
 "-1.05 -1.05 -1.1 -1.15 -1.2 -1.15 -1.1 -1.13 -1.2 -1.18",
 "-0.8 -0.82 -0.8 -0.78 -0.78 -0.78 -0.77 -0.77",
 "-0.9 -0.88 -0.85 -0.83 -0.82 -0.8 -0.8"],
["-0.4 -0.25 -0.2 -0.28 -0.3 -0.36",
 "-0.6 -0.45 -0.3 -0.33 -0.35 -0.37",
 "-1.0 -0.95 -0.9 -0.85 -0.82 -0.8 -0.78",
 "-0.85 -0.82 -0.8 -0.78 -0.76 -0.76 -0.76 -0.77",
 "-0.7 -0.72 -0.74 -0.76 -0.77 -0.78 -0.78 -0.79 -0.8"],
["-0.95 -0.9 -0.85 -0.8 -0.78 -0.76 -0.75 -0.75",
 "-0.7 -0.72 -0.74 -0.75 -0.75 -0.74 -0.72"]];

const ageMean = [
"0.63 0.62 0.64 0.64 0.64 0.64 0.64 0.64 0.64 0.645 0.65 0.655 0.66 0.665 0.67 0.67 0.67 0.67 0.67 0.67 9.6:0.72 0.72",
"0.51 0.51 0.51 0.5 0.5 0.5 0.5 0.51 0.51 0.51 0.51 0.52 0.52 0.53 6.6:0.5 0.51 0.52 0.54 0.54 0.54 0.54 0.54",
"0.32 0.32 0.32 0.33 0.33 0.33 0.34 0.34 0.34 0.34 0.35 0.35 0.35 0.36 0.36 0.36 0.34 8.05:0.38 8.6:0.38",
"0.17 0.17 0.17 0.17 0.17 0.165 0.16 0.16 0.16 0.165 0.17 0.18 5.8:0.14 5.95:0.21 0.2 0.19 0.2 0.23",
"0.05 0.05 0.04 0.035 0.03 0.04 0.05 0.0 3.8:-0.05 0.05 4.3:-0.03 -0.06 4.6:-0.07 4.8:0.09 0.08 5.3:0.08",
"-0.07 -0.075 -0.08 -0.085 -0.09 -0.09 -0.095 -0.1 -0.1 -0.11 -0.14 -0.17 -0.19 -0.12 -0.16 -0.19 -0.21",
"-0.24 -0.24 -0.23 -0.23 -0.22 -0.22 -0.21 -0.2 -0.22 -0.26 -0.3 -0.2",
"-0.49 -0.48 -0.46 -0.45 -0.43 -0.4 -0.41 -0.42 -0.38 -0.46 -0.45 -0.48 -0.49"];
const ageLo = [
"0.58 0.58 0.6 0.6 0.6 0.6 0.59 0.59 0.59 0.6 0.6 0.6 0.6 0.6 0.6 0.6 0.6 0.6 0.6 0.6",
"0.45 0.45 0.45 0.46 0.46 0.46 0.46 0.46 0.45 0.44 0.44 0.43 0.43 0.45 0.48 0.5 0.52 0.53 0.53 0.53",
"0.22 0.24 0.26 0.27 0.28 0.28 0.29 0.29 0.29 0.29 0.3 0.3 0.3 0.3 0.3 0.3 0.3",
"0.05 0.06 0.07 0.08 0.08 0.09 0.1 0.1 0.1 0.1 0.1 0.08 0.05",
"-0.08 -0.06 -0.05 -0.05 -0.05 -0.05 -0.05 -0.15 -0.12 -0.2",
"-0.2 -0.2 -0.2 -0.2 -0.2 -0.2 -0.2 -0.2 -0.2 -0.2 -0.22",
"-0.45 -0.42 -0.4 -0.38 -0.35 -0.33 -0.32 -0.32 -0.34 -0.38 -0.4 -0.3",
"-0.6 -0.6 -0.58 -0.56 -0.55 -0.53 -0.52 -0.52 -0.5 -0.5 -0.5 -0.5"];
const ageHi = [
"0.68 0.66 0.69 0.69 0.69 0.68 0.68 0.68 0.69 0.7 0.71 0.73 0.74 0.74 0.74 0.74 0.74 0.74 0.74 0.74",
"0.56 0.57 0.56 0.55 0.55 0.55 0.55 0.55 0.56 0.57 0.58 0.58 0.58 0.58 0.55 0.55 0.55 0.55 0.55 0.55",
"0.4 0.4 0.4 0.4 0.4 0.4 0.4 0.4 0.4 0.4 0.4 0.4 0.4 0.4 0.4 0.4 0.4",
"0.28 0.28 0.27 0.26 0.26 0.26 0.25 0.25 0.25 0.24 0.24 0.24 0.22",
"0.15 0.15 0.14 0.14 0.13 0.13 0.12 0.1 0.1 0.08",
"0.05 0.05 0.04 0.03 0.02 0.02 0.01 0.0 -0.02 -0.05 -0.1",
"-0.02 -0.03 -0.04 -0.05 -0.06 -0.07 -0.08 -0.1 -0.12 -0.14 -0.15 -0.2",
"-0.38 -0.35 -0.33 -0.3 -0.28 -0.25 -0.25 -0.28 -0.3 -0.4 -0.45 -0.46"];
const ageNonMerger = [
[],
["0.37 0.34 0.31 0.35 0.4 0.42 0.45 0.46 0.46 0.45 0.44 0.43 0.42",
 "0.62 0.6 0.58 0.57 0.56 0.57 0.58 0.59 0.6 0.6 0.6 0.6 0.6",
 "0.6 0.58 0.56 0.55 0.55 0.55 0.56 0.56 0.56",
 "0.48 0.47 0.46 0.46 0.47 0.5 0.53 0.55 0.56 0.57 0.57 0.57",
 "0.42 0.45 0.48 0.5 0.5 0.5 0.5 0.49 0.48",
 "0.55 0.54 0.53 0.52 0.51 0.5 0.49 0.48 0.47"],
["0.43 0.43 0.43 0.43 0.43 0.43 0.43 0.43 0.43 0.43 0.43 0.43 0.43",
 "0.42 0.42 0.42 0.42 0.42 0.42 0.42 0.42 0.42 0.42 0.42 0.42 0.42 0.42 0.42 0.42",
 "0.15 0.2 0.22 0.24 0.25 0.25 0.25 0.24 0.23 0.22 0.2 0.18 0.15",
 "0.0 0.1 0.2 0.25 0.27 0.27 0.26 0.25 0.22 0.2 0.19 0.18",
 "0.28 0.3 0.3 0.3 0.3 0.3 0.3 0.3 0.28 0.25 0.22",
 "0.38 0.37 0.36 0.35 0.35 0.35 0.35 0.36 0.37 0.38 0.38 0.38 0.38 0.38 0.38",
 "0.1 0.15 0.2 0.22 0.25 0.26 0.27 0.27 0.27",
 "0.35 0.33 0.32 0.31 0.3 0.3 0.3 0.31 0.32 0.33 0.34 0.35 0.36"],
["0.3 0.3 0.3 0.3 0.3 0.29 0.28 0.28",
 "-0.2 -0.1 0.0 0.02 0.0 -0.05 -0.08 -0.1",
 "-0.25 -0.15 -0.1 -0.12 -0.2 -0.22",
 "0.1 0.05 0.0 -0.05 -0.1 -0.15 -0.18 -0.2",
 "0.2 0.18 0.15 0.12 0.1 0.08 0.05 0.02 0.0 -0.02 -0.05",
 "0.15 0.12 0.1 0.08 0.05 0.02 0.0 -0.02 -0.05 -0.08 -0.05 0.0 0.02",
 "0.25 0.25 0.24 0.23 0.22 0.21 0.2 0.2 0.2 0.2 0.2 0.2 0.2 0.2 0.2",
 "0.0 -0.05 -0.1 -0.15 -0.1 -0.05 -0.08 -0.1 -0.05",
 "0.22 0.22 0.2 0.18 0.15 0.12 0.1 0.08 0.05 0.02",
 "0.28 0.27 0.26 0.25 0.24 0.23 0.22 0.22 0.21 0.2 0.18",
 "0.1 0.05 0.0 -0.05 -0.1 -0.12 -0.15",
 "0.05 0.0 -0.05 -0.08 -0.12 -0.15 -0.18 -0.2",
 "-0.05 -0.1 -0.12 -0.15 -0.18 -0.2",
 "0.18 0.15 0.12 0.1 0.08 0.05 0.03 0.0 -0.02 -0.05",
 "0.22 0.2 0.18 0.15 0.13 0.1 0.08 0.06 0.05 0.04 0.02 0.0",
 "0.08 0.05 0.02 0.0 -0.03 -0.06 -0.1 -0.12"],
["0.18 0.17 0.16 0.16 0.17 0.2 3.2:0.23",
 "-0.3 -0.32 -0.35 -0.38 -0.42",
 "-0.1 -0.05 0.0 -0.05 -0.1 -0.15 -0.2 -0.25 -0.28",
 "0.12 0.1 0.08 0.05 0.0 -0.05 -0.08 -0.1",
 "-0.2 -0.15 -0.1 -0.05 0.0 0.02 0.03",
 "0.1 0.1 0.1 0.1 0.1 0.1 0.08 0.05",
 "0.15 0.14 0.13 0.12 0.11 0.1 0.1 0.1 0.1",
 "-0.05 -0.1 -0.15 -0.2 -0.25 -0.2 -0.15",
 "0.05 0.0 -0.05 -0.1 -0.12 -0.15 -0.2 -0.22",
 "-0.15 -0.1 -0.05 0.0 0.02 0.0 -0.05",
 "0.05 0.03 0.0 -0.03 -0.05 -0.08",
 "-0.28 -0.22 -0.15 -0.1 -0.05 -0.02",
 "0.15 0.13 0.1 0.08 0.05 0.03 0.0 -0.02"],
["-0.7 -0.5 -0.45 -0.4 -0.35 -0.3",
 "0.05 0.04 0.03 0.02 0.0 0.0 0.02 0.05 0.03",
 "-0.35 -0.3 -0.28 -0.25 -0.25 -0.28 -0.3 -0.3",
 "-0.15 -0.15 -0.18 -0.2 -0.22 -0.25 -0.25 -0.28 -0.3",
 "0.0 -0.02 -0.05 -0.08 -0.1 -0.12 -0.15 -0.18 -0.2 -0.22",
 "-0.1 -0.1 -0.1 -0.1 -0.1 -0.1 -0.1 -0.1 -0.1",
 "-0.45 -0.4 -0.35 -0.3 -0.25 -0.2 -0.18",
 "-0.2 -0.22 -0.25 -0.3 -0.35 -0.38"],
["-0.6 -0.55 -0.5 -0.45 -0.42 -0.45 -0.48 -0.45 -0.42 -0.4 -0.45",
 "-0.05 -0.08 -0.1 -0.12 -0.15 -0.18 -0.2",
 "-0.3 -0.32 -0.35 -0.38 -0.4 -0.42 -0.45 -0.48",
 "-0.1 -0.1 -0.12 -0.15 -0.2 -0.25 -0.3 -0.32 -0.35",
 "-0.55 -0.5 -0.48 -0.5 -0.55 -0.58",
 "-0.2 -0.22 -0.25 -0.28 -0.3 -0.3 -0.32",
 "-0.4 -0.38 -0.35 -0.32 -0.3 -0.28"],
["-0.2 -0.22 -0.22 -0.22 -0.23 -0.25",
 "-0.25 -0.25 -0.27 -0.28 -0.28 -0.3 -0.3 -0.3",
 "-0.65 -0.6 -0.55 -0.5 -0.48 -0.45",
 "-0.35 -0.38 -0.4 -0.42 -0.45 -0.45 -0.48"]];
const ageMerger = [
[],
["0.5 0.49 0.48 0.47 0.47 0.46 0.46 0.46 0.46 0.46",
 "0.53 0.52 0.5 0.49 0.48 0.48 0.48 0.48"],
["-0.13 -0.05 0.05 0.15 0.22 0.25 0.26 0.26 0.27 0.27",
 "0.05 0.15 0.22 0.25 0.26 0.27 0.27 0.26 0.24 0.22 0.2",
 "0.38 0.39 0.39 0.39 0.39 0.39 0.39 0.39 0.39 0.4 0.4 0.4 0.4 0.4",
 "0.3 0.28 0.26 0.26 0.27 0.28 0.28 0.28 0.28 0.29 0.3 0.3 0.3 0.3 0.29 0.28 0.27",
 "0.35 0.35 0.34 0.33 0.33 0.33 0.33 0.34 0.35"],
["-0.12 0.0 0.1 0.2 0.25 0.26 0.26",
 "0.27 0.28 0.28 0.28 0.28 0.27 0.26 0.25 0.24",
 "0.0 0.05 0.05 0.03 0.0 0.0 0.02 0.05 0.08",
 "0.15 0.15 0.12 0.1 0.08 0.05 0.02 0.0 0.0",
 "0.2 0.2 0.2 0.2 0.2 0.2 0.2 0.2 0.2 0.2 0.2 0.2",
 "-0.1 -0.05 0.0 0.05 0.08 0.1 0.12 0.14",
 "-0.05 0.05 0.12 0.18 0.2 0.22 0.22",
 "0.05 0.1 0.15 0.18 0.2 0.2 0.18"],
["-0.38 -0.3 -0.2 -0.1 0.0 0.05",
 "-0.25 -0.3 -0.3 -0.25 -0.15 -0.05 0.0",
 "0.1 0.1 0.09 0.09 0.09 0.09 0.09 0.08 0.08 0.08",
 "0.0 -0.05 -0.1 -0.15 -0.1 -0.05 0.0 0.02",
 "0.12 0.1 0.08 0.05 0.02 0.0 -0.02",
 "-0.2 -0.15 -0.1 -0.05 0.0 0.03",
 "0.05 0.02 -0.02 -0.05 -0.08 -0.1"],
["-0.45 -0.35 -0.3 -0.25 -0.2 -0.15 -0.1",
 "0.05 0.03 0.0 -0.05 -0.1 -0.15 -0.2 -0.25",
 "-0.25 -0.25 -0.23 -0.2 -0.18 -0.15",
 "-0.05 -0.08 -0.1 -0.12 -0.13 -0.15 -0.15",
 "-0.15 -0.18 -0.2 -0.22 -0.22 -0.2"],
["-0.45 -0.4 -0.35 -0.3 -0.25 -0.2",
 "-0.05 -0.05 -0.08 -0.1 -0.12 -0.15 -0.15",
 "-0.35 -0.38 -0.4 -0.38 -0.35 -0.3",
 "-0.15 -0.2 -0.25 -0.28 -0.3 -0.32"],
["-0.55 -0.5 -0.45 -0.42 -0.4 -0.38 -0.35",
 "-0.6 -0.62 -0.6 -0.58 -0.6 -0.62 -0.6"]];

// ---------------- STYLE / LAYOUT ----------------
const binColors = ["#f6d13a","#fca50a","#f37819","#dd513a","#bc3754","#932667","#6a176e","#2a0b52"];
const colX = [56, 302, 548, 794];
const rowTop = [57.3, 260.7, 482.3, 685.7, 909.7, 1112.3];
const W = 214, H = 169;
const mL = 36, mR = 10, mT = 4, mB = 18;

function parseSeries(str, step) {
  const out = []; let k = 0;
  for (const tok of str.trim().split(/\s+/)) {
    if (tok.includes(":")) { const [x, y] = tok.split(":").map(Number); out.push({x, y}); }
    else { out.push({x: +(k * step).toFixed(3), y: +tok}); k++; }
  }
  return out;
}

const quantities = [
  {mean: dustMean, lo: dustLo, hi: dustHi, gray: dustNonMerger, blue: dustMerger, domain: [0, 3], ticks: dustTicks, fmt: d3.format(".1f"), rows: [0, 1], title: sectionTitles[0], titleAt: [0.5, 2.65], ylabX: 28, ylab: "<i>A</i><sub style='font-size:9px'><i>V</i></sub> (mag)"},
  {mean: metalMean, lo: metalLo, hi: metalHi, gray: metalNonMerger, blue: metalMerger, domain: [-1.5, 0.31], ticks: metalTicks, fmt: d3.format(".2f"), rows: [2, 3], title: sectionTitles[1], titleAt: [0.5, 0.1], ylabX: 13, ylab: "log(<i>Z</i>/<i>Z</i><sub style='font-size:9px'><i>solar</i></sub>)"},
  {mean: ageMean, lo: ageLo, hi: ageHi, gray: ageNonMerger, blue: ageMerger, domain: [-0.7, 1.0], ticks: ageTicks, fmt: d3.format(".2f"), rows: [4, 5], title: sectionTitles[2], titleAt: [0.5, -0.48], ylabX: 13, ylab: "log(Gyr)"}
];

const page = document.getElementById("page");
function addDiv(cls, html, css) { const d = document.createElement("div"); d.className = cls; d.innerHTML = html; d.style.cssText = css; page.appendChild(d); return d; }

addDiv("abs", "26", "left:5px;top:3px;font:18px 'Liberation Serif','DejaVu Serif',serif;color:#111;");
addDiv("abs", "Tan et al.", "left:476px;top:2px;font:21px 'Liberation Serif','DejaVu Serif',serif;font-variant:small-caps;letter-spacing:0.6px;color:#111;");

quantities.forEach((q) => {
  for (let b = 0; b < 8; b++) {
    const row = q.rows[b < 4 ? 0 : 1], col = b % 4;
    const step = stepKpc[b], color = binColors[b];
    const grayData = [], blueData = [];
    q.gray[b].forEach((s, i) => parseSeries(s, step).forEach(p => grayData.push({...p, id: i})));
    q.blue[b].forEach((s, i) => parseSeries(s, step).forEach(p => blueData.push({...p, id: i})));
    const meanData = parseSeries(q.mean[b], step);
    const loD = parseSeries(q.lo[b], step), hiD = parseSeries(q.hi[b], step);
    const bandData = loD.map((p, i) => ({x: p.x, y1: p.y, y2: hiD[i].y}));
    const marks = [
      Plot.gridX(xTicks, {stroke: "#d9d9d9", strokeOpacity: 1, strokeWidth: 1}),
      Plot.gridY(q.ticks, {stroke: "#d9d9d9", strokeOpacity: 1, strokeWidth: 1}),
      Plot.axisX(xTicks, {tickSize: 0, tickPadding: 3, fontSize: 9.5, fill: "#333", label: null, tickFormat: d => String(d)}),
      Plot.axisY(q.ticks, {tickSize: 0, tickPadding: 3, fontSize: 9.5, fill: "#333", label: null, tickFormat: q.fmt}),
      Plot.line(grayData, {x: "x", y: "y", z: "id", stroke: "#7a7a7a", strokeOpacity: 0.55, strokeWidth: 0.9, clip: true}),
      Plot.line(blueData, {x: "x", y: "y", z: "id", stroke: "#1010ff", strokeOpacity: 0.55, strokeWidth: 0.9, clip: true}),
      Plot.areaY(bandData, {x: "x", y1: "y1", y2: "y2", fill: color, fillOpacity: 0.4, stroke: color, strokeOpacity: 0.35, strokeWidth: 0.8, clip: true}),
      Plot.line(meanData, {x: "x", y: "y", stroke: color, strokeWidth: 1.8, clip: true}),
      Plot.frame({stroke: "#cfcfcf"}),
      Plot.text([zBins[b]], {text: d => d, frameAnchor: "top-left", dx: 129, dy: 13, textAnchor: "start", lineAnchor: "middle", fontSize: 11.5, fill: "#222"}),
      Plot.text([ageRanges[b]], {text: d => d, frameAnchor: "top-left", dx: 129, dy: 30, textAnchor: "start", lineAnchor: "middle", fontSize: 11.5, fill: "#222"})
    ];
    if (b === 0) marks.push(Plot.text([q.title], {text: d => d, x: q.titleAt[0], y: q.titleAt[1], textAnchor: "start", lineAnchor: "middle", fontSize: 13.5, fill: "#222"}));
    const svg = Plot.plot({
      width: W + mL + mR, height: H + mT + mB,
      marginLeft: mL, marginRight: mR, marginTop: mT, marginBottom: mB,
      x: {domain: [0, 10]}, y: {domain: q.domain},
      style: "background: transparent; overflow: visible; font-family: 'DejaVu Sans', sans-serif; font-size: 9.5px;",
      marks
    });
    const wrap = document.createElement("div");
    wrap.className = "panel";
    wrap.style.left = (colX[col] - mL) + "px";
    wrap.style.top = (rowTop[row] - mT) + "px";
    wrap.appendChild(svg);
    page.appendChild(wrap);
  }
  q.rows.forEach(r => addDiv("ylab", q.ylab, `left:${q.ylabX}px;top:${rowTop[r] + H / 2}px;`));
  colX.forEach(x0 => addDiv("kpc", "kpc", `left:${x0 + W / 2}px;top:${rowTop[q.rows[1]] + H + 21}px;`));
});

// legend (in the 1.5 < z < 2 dust panel)
const leg = addDiv("legend", "", "left:912px;top:119px;width:90px;height:44px;");
const legStyles = [["#9a9a9a", 1], ["#7f7fff", 1], [binColors[3], 2]];
legendLabels.forEach((t, i) => {
  const r = document.createElement("div");
  r.className = "row"; r.style.top = (1 + i * 14) + "px";
  r.innerHTML = `<div class="sw" style="border-top:${legStyles[i][1]}px solid ${legStyles[i][0]}"></div><div class="tx">${t}</div>`;
  leg.appendChild(r);
});
</script>
</body></html>
